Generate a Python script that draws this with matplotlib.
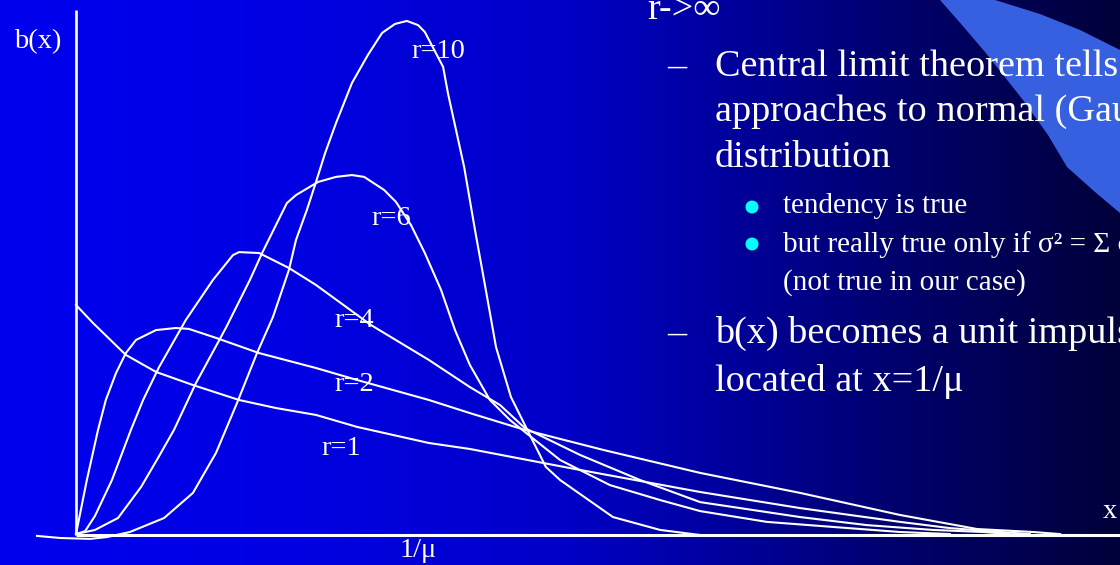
import numpy as np
import matplotlib
matplotlib.use("Agg")
import matplotlib.pyplot as plt
from matplotlib.patches import Polygon, Circle

# ---- Erlang-r service time densities b(x); x in units of 1/mu ----
r1_x = [0.0, 0.050, 0.147, 0.236, 0.345, 0.481, 0.590, 0.708, 0.829, 1.041, 1.162,
        1.457, 1.841, 2.136, 2.431, 2.578, 2.726, 2.814]
r1_y = [1.000, 0.922, 0.783, 0.709, 0.652, 0.587, 0.552, 0.522, 0.470, 0.400, 0.374,
        0.291, 0.187, 0.117, 0.057, 0.030, 0.013, 0.004]

r2_x = [0.0, 0.032, 0.065, 0.088, 0.118, 0.147, 0.177, 0.236, 0.295, 0.333, 0.413,
        0.540, 0.708, 0.829, 1.041, 1.162, 1.324, 1.555, 1.841, 2.136, 2.431, 2.658,
        2.823, 2.903]
r2_y = [0.004, 0.239, 0.457, 0.587, 0.704, 0.791, 0.848, 0.891, 0.900, 0.896, 0.857,
        0.791, 0.726, 0.674, 0.587, 0.530, 0.457, 0.370, 0.270, 0.183, 0.087, 0.026,
        0.013, 0.004]

r4_x = [0.0, 0.027, 0.056, 0.106, 0.162, 0.198, 0.245, 0.324, 0.404, 0.463, 0.481,
        0.540, 0.628, 0.708, 0.870, 1.041, 1.162, 1.251, 1.324, 1.487, 1.664, 1.841,
        2.136, 2.333, 2.528, 2.676, 2.755]
r4_y = [0.004, 0.017, 0.083, 0.239, 0.457, 0.587, 0.730, 0.935, 1.109, 1.217, 1.230,
        1.226, 1.161, 1.087, 0.913, 0.761, 0.643, 0.565, 0.465, 0.348, 0.239, 0.143,
        0.078, 0.043, 0.022, 0.013, 0.004]

r6_x = [0.0, 0.056, 0.124, 0.192, 0.242, 0.289, 0.354, 0.442, 0.513, 0.549, 0.587,
        0.622, 0.649, 0.714, 0.767, 0.814, 0.850, 0.909, 0.944, 0.988, 1.029, 1.077,
        1.118, 1.162, 1.221, 1.280, 1.324, 1.428, 1.575, 1.723, 1.841, 2.038, 2.233,
        2.431, 2.578]
r6_y = [0.004, 0.022, 0.074, 0.209, 0.335, 0.457, 0.661, 0.900, 1.109, 1.226, 1.339,
        1.443, 1.478, 1.535, 1.557, 1.565, 1.557, 1.500, 1.448, 1.348, 1.226, 1.065,
        0.891, 0.739, 0.587, 0.500, 0.448, 0.326, 0.217, 0.152, 0.104, 0.057, 0.035,
        0.013, 0.004]

r10_x = [-0.115, -0.047, 0.041, 0.091, 0.159, 0.260, 0.345, 0.413, 0.475, 0.534, 0.581,
         0.608, 0.628, 0.649, 0.681, 0.708, 0.735, 0.767, 0.814, 0.861, 0.903, 0.941,
         0.976, 1.009, 1.029, 1.083, 1.097, 1.145, 1.177, 1.209, 1.239, 1.283, 1.336,
         1.386, 1.428, 1.584, 1.723, 1.841, 1.997]
r10_y = [-0.004, -0.013, -0.017, -0.009, 0.013, 0.074, 0.183, 0.357, 0.574, 0.791, 0.948,
         1.065, 1.152, 1.283, 1.413, 1.535, 1.661, 1.791, 1.965, 2.087, 2.183, 2.222,
         2.235, 2.217, 2.187, 2.035, 1.922, 1.600, 1.326, 1.065, 0.817, 0.600, 0.443,
         0.296, 0.239, 0.078, 0.022, 0.0, -0.004]

curve_labels = ["r=1", "r=2", "r=4", "r=6", "r=10"]

W, H = 1120, 565
fig = plt.figure(figsize=(W / 100, H / 100), dpi=100)

# ---- slide background: horizontal blue gradient and a light swoosh ----
bg = fig.add_axes([0, 0, 1, 1])
bg.set_xlim(0, W)
bg.set_ylim(H, 0)
bg.axis("off")
stops_x = [0, 300, 560, 750, 900, 1120]
stops_b = [238, 226, 200, 150, 108, 58]
cols = np.arange(W)
blue = np.interp(cols, stops_x, stops_b) / 255.0
grad = np.zeros((2, W, 3))
grad[:, :, 2] = blue
bg.imshow(grad, extent=[0, W, H, 0], aspect="auto", zorder=0)

swoosh = [(940, 0), (962, 25), (985, 52), (1023, 100), (1048, 135), (1067, 167),
          (1095, 192), (1120, 213), (1120, 50), (1080, 30), (1040, 14), (995, 0)]
bg.add_patch(Polygon(swoosh, closed=True, facecolor="#3660E0", edgecolor="none", zorder=1))

serif = "Liberation Serif"
white = "white"

def slide_text(x, y, s, size):
    bg.text(x, y, s, color=white, fontsize=size, family=serif, ha="left",
            va="baseline", zorder=5)

main_fs = 27.5
sub_fs = 21
slide_text(647, 19, "r->\u221e", main_fs)
slide_text(667, 76, "\u2013", main_fs)
slide_text(715, 76, "Central limit theorem tells us that b(x)", main_fs)
slide_text(715, 121, "approaches to normal (Gaussian)", main_fs)
slide_text(715, 167, "distribution", main_fs)
slide_text(783, 213, "tendency is true", sub_fs)
slide_text(783, 252, "but really true only if \u03c3\u00b2 = \u03a3 \u03c3\u1d62\u00b2", sub_fs)
slide_text(783, 290, "(not true in our case)", sub_fs)
slide_text(667, 343, "\u2013", main_fs)
slide_text(715, 343, "b(x) becomes a unit impulse", main_fs)
slide_text(715, 391, "located at x=1/\u03bc", main_fs)
for cy in (207, 244):
    bg.add_patch(Circle((752, cy), 6.5, facecolor="#00FFFF", edgecolor="none", zorder=5))

# ---- the chart: origin at the axes corner, x in 1/mu units ----
ax = fig.add_axes([0, 0, 1, 1], facecolor="none")
px_per_x, px_per_y = 339.0, 230.0
x0_px, y0_px = 76.0, 535.0
ax.set_xlim(-x0_px / px_per_x, (W - x0_px) / px_per_x)
ax.set_ylim((y0_px - H) / px_per_y, y0_px / px_per_y)
ax.axis("off")

y_top = (y0_px - 10) / px_per_y
ax.plot([0, 0], [0, y_top], color=white, lw=1.9, solid_capstyle="butt")
ax.plot([0, (W - x0_px) / px_per_x], [0, 0], color=white, lw=2.2, solid_capstyle="butt")

for xs, ys in [(r1_x, r1_y), (r2_x, r2_y), (r4_x, r4_y), (r6_x, r6_y), (r10_x, r10_y)]:
    ax.plot(xs, ys, color=white, lw=1.5, solid_joinstyle="round")

lab_fs = 20.5
def chart_text(x, y, s):
    ax.text(x, y, s, color=white, fontsize=lab_fs, family=serif, ha="left",
            va="baseline", transform=bg.transData, zorder=6)

label_pos = {"r=1": (321, 455), "r=2": (334, 391), "r=4": (334, 327),
             "r=6": (371, 225), "r=10": (411, 58)}
for lab in curve_labels:
    chart_text(*label_pos[lab], lab)
chart_text(14, 48, "b(x)")
chart_text(1103, 518, "x")
chart_text(400, 557, "1/\u03bc")

fig.savefig("out.png", dpi=100)
